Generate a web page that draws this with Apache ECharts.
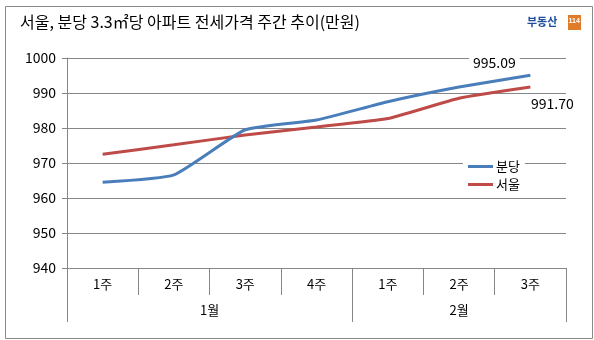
<!DOCTYPE html>
<html>
<head>
<meta charset="utf-8">
<script src="https://cdn.jsdelivr.net/npm/echarts@6/dist/echarts.min.js"></script>
<style>
html,body{margin:0;padding:0;background:#fff;}
#chart{width:594px;height:340px;}
</style>
</head>
<body>
<div id="chart"></div>
<script>
const titleText = '서울, 분당 3.3㎡당 아파트 전세가격 주간 추이(만원)';
const weeks = ['1주', '2주', '3주', '4주', '1주', '2주', '3주'];
const months = ['1월', '2월'];
const monthSpans = [4, 3];
const seriesNames = ['분당', '서울'];
const bundang = [964.5, 966.6, 979.5, 982.3, 987.5, 991.7, 995.09];
const seoul = [972.5, 975.2, 978.0, 980.3, 982.7, 988.5, 991.70];
const yMin = 940, yMax = 1000, yStep = 10;

// half-unit axis for the month level
const halfCount = weeks.length * 2 + 1;
const halfLabels = new Array(halfCount).fill('');
const boundaries = [0];
let start = 0;
months.forEach((m, i) => {
  halfLabels[2 * start + monthSpans[i]] = m;
  start += monthSpans[i];
  boundaries.push(2 * start);
});

const FONT = '"Noto Sans CJK KR", "Noto Sans", sans-serif';
const GRID = '#868686';

function withLastLabel(arr, labelOpt) {
  return arr.map((v, i) => i === arr.length - 1 ? { value: v, label: Object.assign({ show: true }, labelOpt) } : v);
}

const chart = echarts.init(document.getElementById('chart'), null, { renderer: 'canvas' });
chart.setOption({
  backgroundColor: '#fff',
  animation: false,
  textStyle: { fontFamily: FONT },
  title: {
    text: titleText,
    left: 15, top: 9,
    textStyle: { fontSize: 16, fontWeight: 'normal', color: '#000', fontFamily: FONT }
  },
  graphic: [
    { type: 'rect', left: 3, top: 4, shape: { width: 587, height: 332 }, style: { fill: 'none', stroke: '#8a8a8a', lineWidth: 1 }, silent: true },
    { type: 'text', left: 527, top: 16, style: { text: '부동산', fill: '#1f4e9c', font: 'bold 11px ' + FONT } },
    { type: 'rect', left: 568, top: 15, shape: { width: 13, height: 15 }, style: { fill: '#e07b2a' } },
    { type: 'text', left: 568.5, top: 18, style: { text: '114', fill: '#fff', font: 'bold 7px sans-serif' } }
  ],
  legend: {
    orient: 'vertical',
    left: 463, top: 157,
    backgroundColor: '#fff',
    padding: [3, 5, 3, 5],
    icon: 'rect',
    itemWidth: 25, itemHeight: 3, itemGap: 5,
    data: seriesNames,
    textStyle: { fontSize: 13, color: '#000', fontFamily: FONT, padding: [0, 0, 0, -2] }
  },
  grid: { left: 67, right: 28, top: 58, bottom: 72 },
  xAxis: [
    {
      type: 'category',
      data: weeks,
      boundaryGap: true,
      position: 'bottom',
      axisLine: { lineStyle: { color: GRID, width: 1 } },
      axisTick: { show: true, length: 27, lineStyle: { color: GRID } },
      axisLabel: { margin: 10, fontSize: 13, color: '#000', fontFamily: FONT, interval: 0 }
    },
    {
      type: 'category',
      data: halfLabels,
      boundaryGap: false,
      position: 'bottom',
      offset: 0,
      axisLine: { show: false },
      axisTick: { show: true, length: 54, lineStyle: { color: GRID }, interval: (idx) => boundaries.indexOf(idx) >= 0 },
      axisLabel: { margin: 36, fontSize: 13, color: '#000', fontFamily: FONT, interval: 0 },
      splitLine: { show: false }
    }
  ],
  yAxis: {
    type: 'value',
    min: yMin, max: yMax, interval: yStep,
    axisLine: { show: true, lineStyle: { color: GRID } },
    axisTick: { show: true, length: 5, lineStyle: { color: GRID } },
    axisLabel: { margin: 11, fontSize: 14, color: '#000', fontFamily: FONT, formatter: v => String(v) },
    splitLine: { lineStyle: { color: GRID, width: 1 } }
  },
  series: [
    {
      name: seriesNames[0], type: 'line', xAxisIndex: 0,
      data: withLastLabel(bundang, { position: 'top', distance: 4, offset: [-36, 0], fontSize: 14, color: '#000', backgroundColor: '#fff', padding: [1, 4], formatter: p => p.value.toFixed(2) }),
      symbol: 'circle', symbolSize: 0, showSymbol: true, smooth: 0.15,
      lineStyle: { color: '#4a7ebb', width: 3 },
      itemStyle: { color: '#4a7ebb' },
      z: 3
    },
    {
      name: seriesNames[1], type: 'line', xAxisIndex: 0,
      data: withLastLabel(seoul, { position: 'bottom', distance: 4, offset: [22, 5], fontSize: 14, color: '#000', backgroundColor: '#fff', padding: [1, 4], formatter: p => p.value.toFixed(2) }),
      symbol: 'circle', symbolSize: 0, showSymbol: true, smooth: 0.15,
      lineStyle: { color: '#be4b48', width: 3 },
      itemStyle: { color: '#be4b48' },
      z: 2
    }
  ]
});
</script>
</body>
</html>
